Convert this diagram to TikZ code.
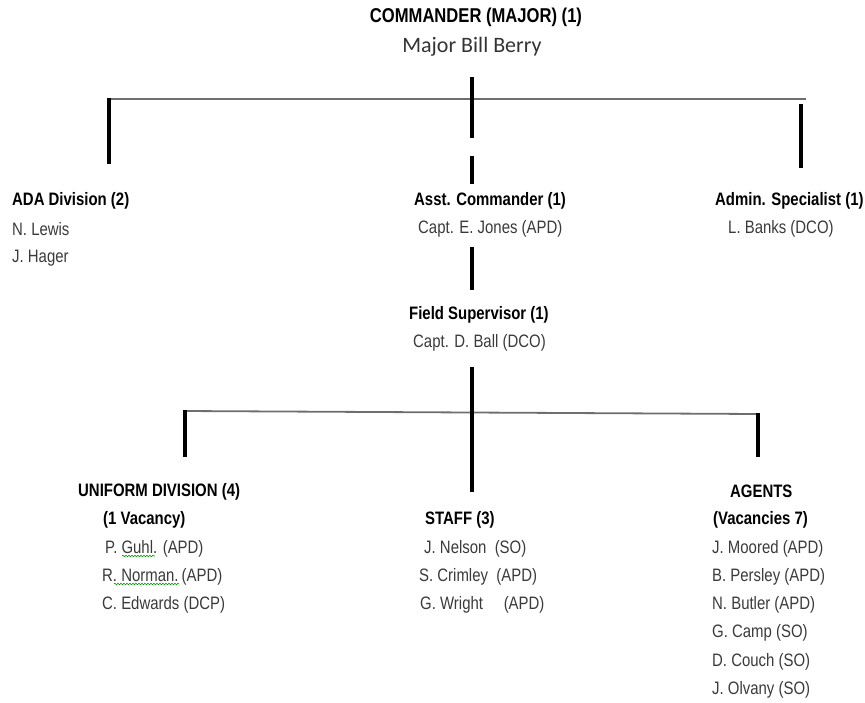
\documentclass[tikz,border=0pt]{standalone}
\usepackage{fontspec}
\setmainfont{Liberation Sans}[FakeStretch=0.83]
\newfontfamily\calib{Carlito}
\usetikzlibrary{decorations.pathmorphing}
\definecolor{txtgray}{HTML}{3A3A3A}
\definecolor{hline}{HTML}{6E6E6E}
\tikzset{
  ttl/.style={anchor=west, inner sep=0pt, font=\fontsize{18}{20}\selectfont\bfseries, text=black},
  nm/.style={anchor=west, inner sep=0pt, font=\fontsize{18}{20}\selectfont, text=txtgray},
  vbar/.style={line width=3.2pt, black},
  hbar/.style={line width=2.4pt, hline},
  hthin/.style={line width=1.8pt, hline},
  squig/.style={green!60!black, line width=0.6pt, decorate, decoration={snake, segment length=3pt, amplitude=0.8pt}}
}
\begin{document}
\begin{tikzpicture}[x=1pt, y=-1pt]
\useasboundingbox (0,0) rectangle (865,702);
% top
\node[anchor=center, inner sep=0pt, font=\fontsize{20}{22}\selectfont\bfseries] (cmd) at (476,17) {COMMANDER (MAJOR) (1)};
\node[anchor=center, inner sep=0pt, font=\calib\fontsize{22}{24}\selectfont, text=black!80] (berry) at (472,47) {Major Bill Berry};
% second row
\node[ttl] (ada) at (12,201) {ADA Division (2)};
\node[nm] (ada1) at (12,229) {N. Lewis};
\node[nm] (ada2) at (12,258) {J. Hager};
\node[ttl] (asst) at (414,201) {Asst. Commander (1)};
\node[nm] (asst1) at (418,229) {Capt. E. Jones (APD)};
\node[ttl] (admin) at (715,201) {Admin. Specialist (1)};
\node[nm] (admin1) at (728,229) {L. Banks (DCO)};
% field supervisor
\node[ttl] (field) at (409,315) {Field Supervisor (1)};
\node[nm] (field1) at (413,343) {Capt. D. Ball (DCO)};
% bottom row
\node[ttl] (unif) at (78,492) {UNIFORM DIVISION (4)};
\node[ttl] (unifv) at (103,520) {(1 Vacancy)};
\node[nm] (u1) at (105,549) {P. Guhl. (APD)};
\node[nm] (u2) at (102,577) {R. Norman.\kern-1pt\ (APD)};
\node[nm] (u3) at (102,605) {C. Edwards (DCP)};
\node[ttl] (staff) at (425,520) {STAFF (3)};
\node[nm] (s1) at (424,549) {J. Nelson\ \ (SO)};
\node[nm] (s2) at (419,577) {S. Crimley\ \ (APD)};
\node[nm] (s3) at (420,605) {G. Wright\ \ \ \ \ (APD)};
\node[ttl] (agents) at (730,491) {AGENTS};
\node[ttl] (agentsv) at (713,520) {(Vacancies 7)};
\node[nm] (a1) at (712,549) {J. Moored (APD)};
\node[nm] (a2) at (712,577) {B. Persley (APD)};
\node[nm] (a3) at (712,605) {N. Butler (APD)};
\node[nm] (a4) at (712,633) {G. Camp (SO)};
\node[nm] (a5) at (712,662) {D. Couch (SO)};
\node[nm] (a6) at (712,690) {J. Olvany (SO)};
% spell-check squiggles
\draw[squig] (122,556) -- (155,556);
\draw[squig] (114,584) -- (179,584);
% coordinates for connectors
\coordinate (c0) at (472,77);
\coordinate (c1) at (472,138);
\coordinate (hl) at (107,99);
\coordinate (hr) at (806,99);
\coordinate (l0) at (109,98);
\coordinate (l1) at (109,164);
\coordinate (r0) at (801,104);
\coordinate (r1) at (801,168);
\coordinate (d0) at (472,156);
\coordinate (d1) at (472,184);
\coordinate (e0) at (472,247);
\coordinate (e1) at (472,290);
\coordinate (f0) at (472,367);
\coordinate (f1) at (472,492);
\coordinate (bl) at (184,411);
\coordinate (br) at (759,414);
\coordinate (bl0) at (185,410);
\coordinate (bl1) at (185,457);
\coordinate (br0) at (758,413);
\coordinate (br1) at (758,457);
% connectors
\draw[hbar] (hl) -- (hr);
\draw[hthin] (bl) -- (br);
\draw[vbar] (c0) -- (c1);
\draw[vbar] (l0) -- (l1);
\draw[vbar] (r0) -- (r1);
\draw[vbar] (d0) -- (d1);
\draw[vbar] (e0) -- (e1);
\draw[vbar] (f0) -- (f1);
\draw[vbar] (bl0) -- (bl1);
\draw[vbar] (br0) -- (br1);
\end{tikzpicture}
\end{document}
